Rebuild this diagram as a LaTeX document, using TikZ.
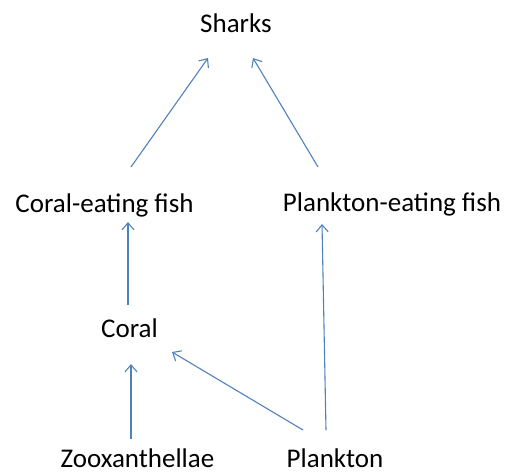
\documentclass[tikz,border=0pt]{standalone}
\usepackage{fontspec}
\setmainfont{Carlito}
\usepackage{xcolor}
\usepackage{tikz}
\usetikzlibrary{arrows.meta}
\usetikzlibrary{positioning}

\definecolor{linkblue}{RGB}{79,129,189}

\begin{document}
\begin{tikzpicture}[x=1pt, y=-1pt, >={Straight Barb[length=7pt, width=12pt]},
    species/.style={anchor=base, inner sep=0pt, font=\fontsize{27}{32}\selectfont},
    feeds/.style={->, draw=linkblue, line width=1.1pt}]
  % ===== Food web =====
  \path[use as bounding box] (0,0) rectangle (510,475);

  % Species
  \node[species] (sharks) at (236,32) {Sharks};
  \node[species] (cfish) at (104.5,212) {Coral-eating fish};
  \node[species] (pfish) at (392,211) {Plankton-eating fish};
  \node[species] (coral) at (129.5,337) {Coral};
  \node[species] (zoox) at (137.5,467) {Zooxanthellae};
  \node[species] (plankton) at (335,467) {Plankton};

  % Who eats whom
  \draw[feeds] ([shift={(26.5,-45)}]cfish.base) -- ([shift={(-28,26)}]sharks.base);
  \draw[feeds] ([shift={(-74,-44)}]pfish.base) -- ([shift={(17,26)}]sharks.base);
  \draw[feeds] ([shift={(-1.5,-32)}]coral.base) -- ([shift={(23.5,10)}]cfish.base);
  \draw[feeds] ([shift={(-9,-37)}]plankton.base) -- ([shift={(-70,13)}]pfish.base);
  \draw[feeds] ([shift={(-6.5,-28)}]zoox.base) -- ([shift={(1.5,27)}]coral.base);
  \draw[feeds] ([shift={(-32,-37)}]plankton.base) -- ([shift={(42.5,15)}]coral.base);
\end{tikzpicture}
\end{document}
